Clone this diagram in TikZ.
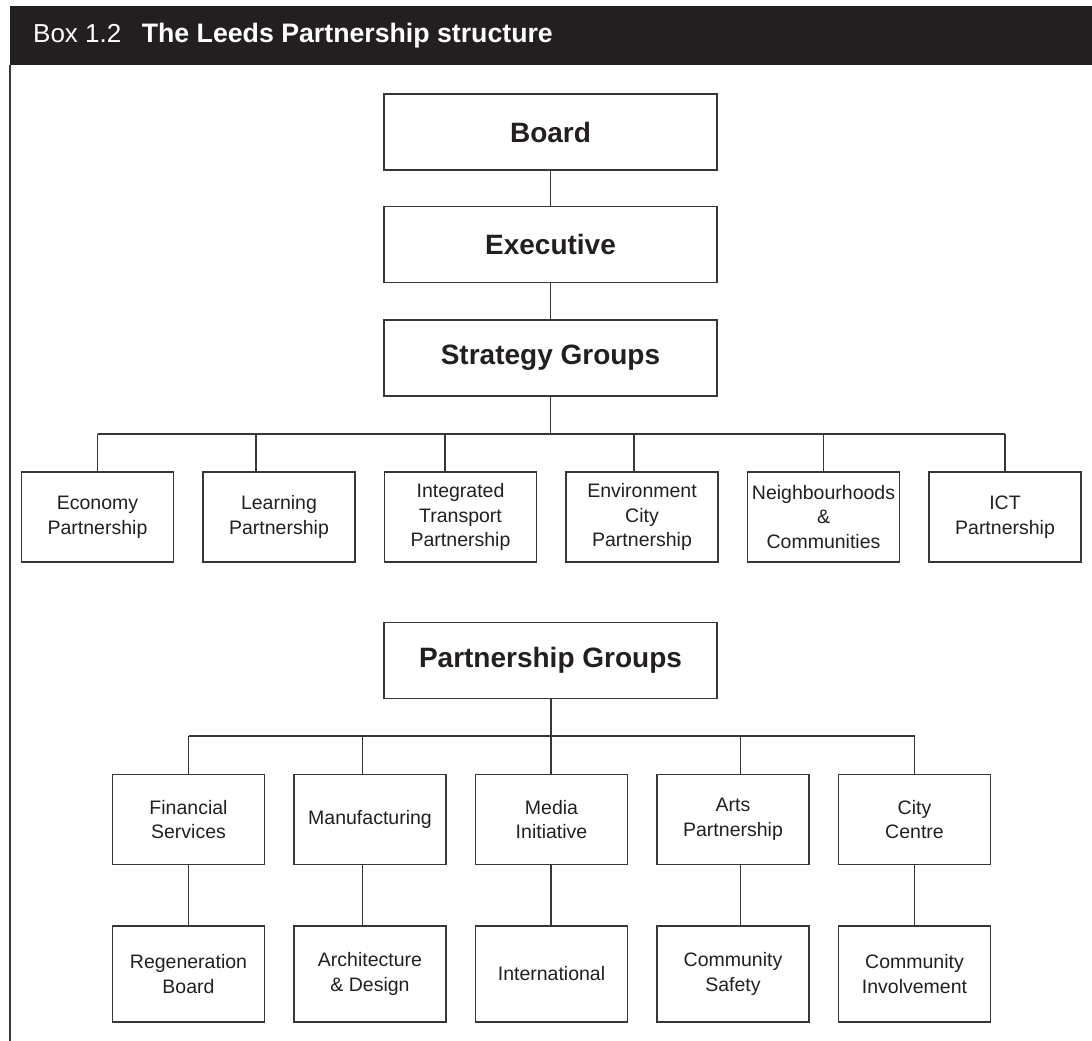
\documentclass[tikz,border=0pt]{standalone}
\usepackage{fontspec}
\setmainfont{Liberation Sans}
\definecolor{ink}{RGB}{35,31,32}
\definecolor{rulecol}{RGB}{55,55,55}
\begin{document}
\begin{tikzpicture}[x=1pt,y=-1pt,
  box/.style={draw=rulecol, line width=1.4pt, rectangle, inner sep=0pt, align=center, text=ink},
  headbox/.style={box, minimum width=333pt, minimum height=76pt,
    font=\fontsize{28}{33}\selectfont\bfseries},
  unit/.style={box, minimum width=152pt, minimum height=90pt,
    font=\fontsize{19.5}{24.8}\selectfont},
  unitlow/.style={unit, minimum height=96pt},
  link/.style={draw=rulecol, line width=1.4pt}]
\useasboundingbox (0,0) rectangle (1092,1041);

% title bar and left rule of the box
\fill[ink] (10,6) rectangle (1092,65);
\node[anchor=base west, inner sep=0pt, text=white] (title) at (33,42.7)
  {{\fontsize{26}{30}\selectfont Box 1.2}\hspace{20.5pt}{\fontsize{26.7}{30}\selectfont\bfseries The Leeds Partnership structure}};
\coordinate (ruletop) at (10,65);
\coordinate (rulebot) at (10,1041);
\draw[link] (ruletop) -- (rulebot);

% top of the hierarchy
\node[headbox] (board) at (550.5,132)   {Board};
\node[headbox] (exec)  at (550.5,244.5) {Executive};
\node[headbox] (strat) at (550.5,358)   {Strategy Groups};
\draw[link] (board) -- (exec);
\draw[link] (exec) -- (strat);

% strategy partnerships
\node[unit] (econ)  at (97.5,517)  {Economy\\Partnership};
\node[unit] (learn) at (279,517)   {Learning\\Partnership};
\node[unit] (itp)   at (460.5,517) {Integrated\\Transport\\Partnership};
\node[unit] (env)   at (642,517)   {Environment\\City\\Partnership};
\node[unit] (nbh)   at (823.5,517) {Neighbourhoods\\\&\\Communities};
\node[unit] (ict)   at (1005,517)  {ICT\\Partnership};

\coordinate (sbus) at (550.5,434);
\draw[link] (strat.south) -- (sbus);
\draw[link] (econ.north |- sbus) -- (ict.north |- sbus);
\draw[link] (econ.north) -- (econ.north |- sbus);
\draw[link] ([xshift=-23pt]learn.north) -- ([xshift=-23pt]learn.north |- sbus);
\draw[link] ([xshift=-15.5pt]itp.north) -- ([xshift=-15.5pt]itp.north |- sbus);
\draw[link] ([xshift=-8pt]env.north) -- ([xshift=-8pt]env.north |- sbus);
\draw[link] (nbh.north) -- (nbh.north |- sbus);
\draw[link] (ict.north) -- (ict.north |- sbus);

% partnership groups
\node[headbox] (pgroups) at (550.5,660.5) {Partnership Groups};

\node[unit] (fin)  at (188.5,819.5) {Financial\\Services};
\node[unit] (man)  at (370,819.5)   {Manufacturing};
\node[unit] (med)  at (551.5,819.5) {Media\\Initiative};
\node[unit] (arts) at (733,819.5)   {Arts\\Partnership};
\node[unit] (city) at (914.5,819.5) {City\\Centre};

\node[unitlow] (regen) at (188.5,974) {Regeneration\\Board};
\node[unitlow] (arch)  at (370,974)   {Architecture\\\& Design};
\node[unitlow] (intl)  at (551.5,974) {International};
\node[unitlow] (csafe) at (733,974)   {Community\\Safety};
\node[unitlow] (cinv)  at (914.5,974) {Community\\Involvement};

\coordinate (pbus) at (551,736);
\draw[link] (pgroups.south -| pbus) -- (pbus);
\draw[link] (fin.north |- pbus) -- (city.north |- pbus);
\draw[link] (fin.north) -- (fin.north |- pbus);
\draw[link] ([xshift=-7.5pt]man.north) -- ([xshift=-7.5pt]man.north |- pbus);
\draw[link] (med.north -| pbus) -- (pbus);
\draw[link] ([xshift=7.5pt]arts.north) -- ([xshift=7.5pt]arts.north |- pbus);
\draw[link] (city.north) -- (city.north |- pbus);

% second tier under each group
\draw[link] (fin.south) -- (regen.north);
\draw[link] ([xshift=-7.5pt]man.south) -- ([xshift=-7.5pt]arch.north);
\draw[link] (med.south -| pbus) -- (intl.north -| pbus);
\draw[link] ([xshift=7.5pt]arts.south) -- ([xshift=7.5pt]csafe.north);
\draw[link] (city.south) -- (cinv.north);
\end{tikzpicture}
\end{document}
